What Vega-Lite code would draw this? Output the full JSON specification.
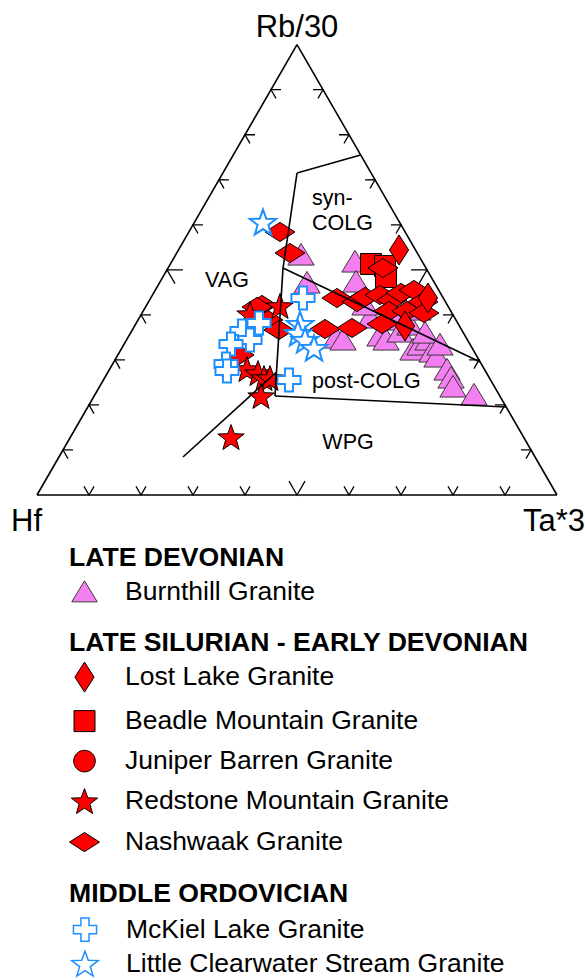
{
  "$schema": "https://vega.github.io/schema/vega-lite/v6.json",
  "width": 585,
  "height": 980,
  "autosize": {"type": "none"},
  "padding": 0,
  "background": "white",
  "config": {"view": {"stroke": null}, "font": "Liberation Sans"},
  "datasets": {
    "burnthill": [
      {"granite": "Burnthill Granite", "x": 50.77, "y": 46.15},
      {"granite": "Burnthill Granite", "x": 51.92, "y": 40.77},
      {"granite": "Burnthill Granite", "x": 61.15, "y": 44.81},
      {"granite": "Burnthill Granite", "x": 61.35, "y": 40.96},
      {"granite": "Burnthill Granite", "x": 57.5, "y": 30.19},
      {"granite": "Burnthill Granite", "x": 58.85, "y": 29.81},
      {"granite": "Burnthill Granite", "x": 65.96, "y": 30.58},
      {"granite": "Burnthill Granite", "x": 67.12, "y": 29.81},
      {"granite": "Burnthill Granite", "x": 64.04, "y": 34.04},
      {"granite": "Burnthill Granite", "x": 68.85, "y": 33.65},
      {"granite": "Burnthill Granite", "x": 69.81, "y": 31.35},
      {"granite": "Burnthill Granite", "x": 71.73, "y": 32.69},
      {"granite": "Burnthill Granite", "x": 72.31, "y": 27.88},
      {"granite": "Burnthill Granite", "x": 73.65, "y": 28.85},
      {"granite": "Burnthill Granite", "x": 75.19, "y": 29.81},
      {"granite": "Burnthill Granite", "x": 75.96, "y": 27.5},
      {"granite": "Burnthill Granite", "x": 76.92, "y": 26.54},
      {"granite": "Burnthill Granite", "x": 78.85, "y": 24.04},
      {"granite": "Burnthill Granite", "x": 79.62, "y": 22.5},
      {"granite": "Burnthill Granite", "x": 80.0, "y": 20.77},
      {"granite": "Burnthill Granite", "x": 84.04, "y": 19.23},
      {"granite": "Burnthill Granite", "x": 73.27, "y": 35.58},
      {"granite": "Burnthill Granite", "x": 63.08, "y": 36.54},
      {"granite": "Burnthill Granite", "x": 74.62, "y": 31.15},
      {"granite": "Burnthill Granite", "x": 77.5, "y": 28.85}
    ],
    "silurian": [
      {"granite": "Beadle Mountain Granite", "x": 64.23, "y": 44.42},
      {"granite": "Beadle Mountain Granite", "x": 66.92, "y": 44.04},
      {"granite": "Beadle Mountain Granite", "x": 67.12, "y": 41.92},
      {"granite": "Nashwaak Granite", "x": 46.73, "y": 50.58},
      {"granite": "Nashwaak Granite", "x": 48.65, "y": 46.54},
      {"granite": "Nashwaak Granite", "x": 43.27, "y": 36.54},
      {"granite": "Nashwaak Granite", "x": 42.31, "y": 36.15},
      {"granite": "Nashwaak Granite", "x": 44.42, "y": 33.65},
      {"granite": "Nashwaak Granite", "x": 46.54, "y": 31.73},
      {"granite": "Nashwaak Granite", "x": 57.69, "y": 37.88},
      {"granite": "Nashwaak Granite", "x": 61.54, "y": 37.12},
      {"granite": "Nashwaak Granite", "x": 63.08, "y": 38.08},
      {"granite": "Nashwaak Granite", "x": 65.96, "y": 38.46},
      {"granite": "Nashwaak Granite", "x": 68.27, "y": 37.5},
      {"granite": "Nashwaak Granite", "x": 70.0, "y": 38.85},
      {"granite": "Nashwaak Granite", "x": 72.5, "y": 39.42},
      {"granite": "Nashwaak Granite", "x": 74.23, "y": 37.12},
      {"granite": "Nashwaak Granite", "x": 67.69, "y": 35.38},
      {"granite": "Nashwaak Granite", "x": 71.15, "y": 35.38},
      {"granite": "Nashwaak Granite", "x": 74.42, "y": 35.0},
      {"granite": "Nashwaak Granite", "x": 55.38, "y": 31.92},
      {"granite": "Nashwaak Granite", "x": 60.58, "y": 32.12},
      {"granite": "Nashwaak Granite", "x": 66.35, "y": 32.88},
      {"granite": "Nashwaak Granite", "x": 66.54, "y": 43.65},
      {"granite": "Nashwaak Granite", "x": 38.85, "y": 26.92},
      {"granite": "Lost Lake Granite", "x": 69.62, "y": 47.12},
      {"granite": "Lost Lake Granite", "x": 70.77, "y": 32.5},
      {"granite": "Lost Lake Granite", "x": 75.19, "y": 37.88},
      {"granite": "Redstone Mountain Granite", "x": 46.73, "y": 36.35},
      {"granite": "Redstone Mountain Granite", "x": 40.96, "y": 34.81},
      {"granite": "Redstone Mountain Granite", "x": 40.38, "y": 24.23},
      {"granite": "Redstone Mountain Granite", "x": 42.5, "y": 23.46},
      {"granite": "Redstone Mountain Granite", "x": 43.65, "y": 22.5},
      {"granite": "Redstone Mountain Granite", "x": 44.81, "y": 22.5},
      {"granite": "Redstone Mountain Granite", "x": 43.08, "y": 19.04},
      {"granite": "Redstone Mountain Granite", "x": 37.31, "y": 11.15}
    ],
    "ordovician": [
      {"granite": "McKiel Lake Granite", "x": 51.15, "y": 37.88},
      {"granite": "McKiel Lake Granite", "x": 42.69, "y": 33.08},
      {"granite": "McKiel Lake Granite", "x": 39.42, "y": 31.54},
      {"granite": "McKiel Lake Granite", "x": 40.96, "y": 29.81},
      {"granite": "McKiel Lake Granite", "x": 37.31, "y": 29.04},
      {"granite": "McKiel Lake Granite", "x": 36.35, "y": 25.19},
      {"granite": "McKiel Lake Granite", "x": 36.54, "y": 23.85},
      {"granite": "McKiel Lake Granite", "x": 48.46, "y": 22.12},
      {"granite": "Little Clearwater Stream Granite", "x": 43.46, "y": 52.5},
      {"granite": "Little Clearwater Stream Granite", "x": 50.58, "y": 32.88},
      {"granite": "Little Clearwater Stream Granite", "x": 50.19, "y": 31.15},
      {"granite": "Little Clearwater Stream Granite", "x": 51.54, "y": 29.81},
      {"granite": "Little Clearwater Stream Granite", "x": 53.27, "y": 28.27}
    ],
    "segs": [
      {"x": 0, "y": 0, "x2": 100, "y2": 0},
      {"x": 0, "y": 0, "x2": 50, "y2": 86.6},
      {"x": 100, "y": 0, "x2": 50, "y2": 86.6},
      {"x": 62.23, "y": 65.38, "x2": 50.0, "y2": 61.92},
      {"x": 50.0, "y": 61.92, "x2": 47.31, "y2": 43.65},
      {"x": 47.31, "y": 43.65, "x2": 45.77, "y2": 19.04},
      {"x": 47.31, "y": 43.65, "x2": 85.23, "y2": 25.58},
      {"x": 45.77, "y": 19.04, "x2": 90.23, "y2": 16.92},
      {"x": 46.06, "y": 23.65, "x2": 28.08, "y2": 7.31}
    ],
    "ticks": [
      {"side": "bottom", "kind": "minor", "x": 10, "y": 0},
      {"side": "bottom", "kind": "minor", "x": 20, "y": 0},
      {"side": "bottom", "kind": "minor", "x": 30, "y": 0},
      {"side": "bottom", "kind": "minor", "x": 40, "y": 0},
      {"side": "bottom", "kind": "major", "x": 50, "y": 0},
      {"side": "bottom", "kind": "minor", "x": 60, "y": 0},
      {"side": "bottom", "kind": "minor", "x": 70, "y": 0},
      {"side": "bottom", "kind": "minor", "x": 80, "y": 0},
      {"side": "bottom", "kind": "minor", "x": 90, "y": 0},
      {"side": "left", "kind": "minor", "x": 5, "y": 8.66},
      {"side": "left", "kind": "minor", "x": 10, "y": 17.32},
      {"side": "left", "kind": "minor", "x": 15, "y": 25.98},
      {"side": "left", "kind": "minor", "x": 20, "y": 34.64},
      {"side": "left", "kind": "major", "x": 25, "y": 43.3},
      {"side": "left", "kind": "minor", "x": 30, "y": 51.96},
      {"side": "left", "kind": "minor", "x": 35, "y": 60.62},
      {"side": "left", "kind": "minor", "x": 40, "y": 69.28},
      {"side": "left", "kind": "minor", "x": 45, "y": 77.94},
      {"side": "right", "kind": "minor", "x": 95, "y": 8.66},
      {"side": "right", "kind": "minor", "x": 90, "y": 17.32},
      {"side": "right", "kind": "minor", "x": 85, "y": 25.98},
      {"side": "right", "kind": "minor", "x": 80, "y": 34.64},
      {"side": "right", "kind": "major", "x": 75, "y": 43.3},
      {"side": "right", "kind": "minor", "x": 70, "y": 51.96},
      {"side": "right", "kind": "minor", "x": 65, "y": 60.62},
      {"side": "right", "kind": "minor", "x": 60, "y": 69.28},
      {"side": "right", "kind": "minor", "x": 55, "y": 77.94}
    ],
    "vlabels": [
      {"label": "Rb/30", "x": 50, "y": 88.08},
      {"label": "Hf", "x": -2.0, "y": -6.92},
      {"label": "Ta*3", "x": 99.42, "y": -6.92}
    ],
    "rlabels": [
      {"label": "syn-", "x": 56.79, "y": 55.77},
      {"label": "COLG", "x": 58.75, "y": 50.96},
      {"label": "VAG", "x": 36.54, "y": 40.0},
      {"label": "post-COLG", "x": 63.35, "y": 20.58},
      {"label": "WPG", "x": 59.81, "y": 8.85}
    ]
  },
  "encoding": {
    "x": {"field": "x", "type": "quantitative", "axis": null, "scale": {"domain": [-7.1154, 105.3846], "nice": false, "zero": false}},
    "y": {"field": "y", "type": "quantitative", "axis": null, "scale": {"domain": [-93.269, 95.192], "nice": false, "zero": false}}
  },
  "layer": [
    {
      "data": {"name": "burnthill"},
      "mark": {"type": "point", "filled": true, "fill": "#f47ff0", "strokeWidth": 1, "opacity": 1, "size": 960},
      "encoding": {
        "shape": {
          "field": "granite", "type": "nominal",
          "scale": {"domain": ["Burnthill Granite"], "range": ["M0,-0.75L0.85,0.65L-0.85,0.65Z"]},
          "legend": {"title": "LATE DEVONIAN", "orient": "none", "legendX": 69, "legendY": 545, "padding": 0, "symbolSize": 900, "symbolStrokeWidth": 1, "labelFont": "Liberation Sans", "labelFontSize": 26.5, "labelColor": "black", "labelLimit": 1000, "labelOffset": 25, "titleFont": "Liberation Sans", "titleFontSize": 26.6, "titleFontWeight": "bold", "titleColor": "black", "titlePadding": 5, "titleLimit": 1000, "rowPadding": 0}
        },
        "stroke": {
          "field": "granite", "type": "nominal",
          "scale": {"domain": ["Burnthill Granite"], "range": ["#3a3a3a"]},
          "legend": {"title": "LATE DEVONIAN", "orient": "none", "legendX": 69, "legendY": 545, "padding": 0, "symbolSize": 900, "symbolStrokeWidth": 1, "labelFont": "Liberation Sans", "labelFontSize": 26.5, "labelColor": "black", "labelLimit": 1000, "labelOffset": 25, "titleFont": "Liberation Sans", "titleFontSize": 26.6, "titleFontWeight": "bold", "titleColor": "black", "titlePadding": 5, "titleLimit": 1000, "rowPadding": 0}
        }
      }
    },
    {
      "data": {"name": "silurian"},
      "mark": {"type": "point", "filled": true, "fill": "#ff0000", "strokeWidth": 1, "opacity": 1, "size": 900},
      "encoding": {
        "shape": {
          "field": "granite", "type": "nominal",
          "scale": {
            "domain": ["Lost Lake Granite", "Beadle Mountain Granite", "Juniper Barren Granite", "Redstone Mountain Granite", "Nashwaak Granite"],
            "range": [
              "M0,-1L0.64,0L0,1L-0.64,0Z",
              "M-0.7,-0.7L0.7,-0.7L0.7,0.7L-0.7,0.7Z",
              "M-0.72,0A0.72,0.72,0,1,0,0.72,0A0.72,0.72,0,1,0,-0.72,0Z",
              "M0,-0.83L0.22,-0.22L0.88,-0.2L0.36,0.2L0.54,0.83L0,0.47L-0.54,0.83L-0.36,0.2L-0.88,-0.2L-0.22,-0.22Z",
              "M-1,0L0,-0.64L1,0L0,0.64Z"
            ]
          },
          "legend": {"title": "LATE SILURIAN - EARLY DEVONIAN", "orient": "none", "legendX": 69, "legendY": 630, "padding": 0, "symbolSize": 900, "symbolStrokeWidth": 1, "labelFont": "Liberation Sans", "labelFontSize": 26.5, "labelColor": "black", "labelLimit": 1000, "labelOffset": 25, "titleFont": "Liberation Sans", "titleFontSize": 26.6, "titleFontWeight": "bold", "titleColor": "black", "titlePadding": 5, "titleLimit": 1000, "rowPadding": 11}
        },
        "stroke": {
          "field": "granite", "type": "nominal",
          "scale": {
            "domain": ["Lost Lake Granite", "Beadle Mountain Granite", "Juniper Barren Granite", "Redstone Mountain Granite", "Nashwaak Granite"],
            "range": ["black", "black", "black", "black", "black"]
          },
          "legend": {"title": "LATE SILURIAN - EARLY DEVONIAN", "orient": "none", "legendX": 69, "legendY": 630, "padding": 0, "symbolSize": 900, "symbolStrokeWidth": 1, "labelFont": "Liberation Sans", "labelFontSize": 26.5, "labelColor": "black", "labelLimit": 1000, "labelOffset": 25, "titleFont": "Liberation Sans", "titleFontSize": 26.6, "titleFontWeight": "bold", "titleColor": "black", "titlePadding": 5, "titleLimit": 1000, "rowPadding": 11}
        }
      }
    },
    {
      "data": {"name": "ordovician"},
      "mark": {"type": "point", "filled": true, "fill": "white", "strokeWidth": 2, "opacity": 1, "size": 900},
      "encoding": {
        "shape": {
          "field": "granite", "type": "nominal",
          "scale": {
            "domain": ["McKiel Lake Granite", "Little Clearwater Stream Granite"],
            "range": [
              "M-0.27,-0.77L0.27,-0.77L0.27,-0.27L0.77,-0.27L0.77,0.27L0.27,0.27L0.27,0.77L-0.27,0.77L-0.27,0.27L-0.77,0.27L-0.77,-0.27L-0.27,-0.27Z",
              "M0,-0.83L0.22,-0.22L0.88,-0.2L0.36,0.2L0.54,0.83L0,0.47L-0.54,0.83L-0.36,0.2L-0.88,-0.2L-0.22,-0.22Z"
            ]
          },
          "legend": {"title": "MIDDLE ORDOVICIAN", "orient": "none", "legendX": 69, "legendY": 881, "padding": 0, "symbolSize": 900, "symbolStrokeWidth": 1.5, "labelFont": "Liberation Sans", "labelFontSize": 26.5, "labelColor": "black", "labelLimit": 1000, "labelOffset": 25, "titleFont": "Liberation Sans", "titleFontSize": 26.6, "titleFontWeight": "bold", "titleColor": "black", "titlePadding": 6, "titleLimit": 1000, "rowPadding": 3}
        },
        "stroke": {
          "field": "granite", "type": "nominal",
          "scale": {
            "domain": ["McKiel Lake Granite", "Little Clearwater Stream Granite"],
            "range": ["#1e8fff", "#1e8fff"]
          },
          "legend": {"title": "MIDDLE ORDOVICIAN", "orient": "none", "legendX": 69, "legendY": 881, "padding": 0, "symbolSize": 900, "symbolStrokeWidth": 1.5, "labelFont": "Liberation Sans", "labelFontSize": 26.5, "labelColor": "black", "labelLimit": 1000, "labelOffset": 25, "titleFont": "Liberation Sans", "titleFontSize": 26.6, "titleFontWeight": "bold", "titleColor": "black", "titlePadding": 6, "titleLimit": 1000, "rowPadding": 3}
        }
      }
    },
    {
      "data": {"name": "segs"},
      "mark": {"type": "rule", "color": "black", "strokeWidth": 1.6},
      "encoding": {
        "x2": {"field": "x2"},
        "y2": {"field": "y2"}
      }
    },
    {
      "data": {"name": "ticks"},
      "transform": [{"filter": "datum.side === 'bottom'"}],
      "mark": {"type": "point", "filled": false, "color": "black", "strokeWidth": 1.3, "opacity": 1, "angle": 0, "shape": "M-0.577,-1L0,0L0.577,-1"},
      "encoding": {
        "size": {"field": "kind", "type": "ordinal", "scale": {"domain": ["minor", "major"], "range": [300, 768]}, "legend": null}
      }
    },
    {
      "data": {"name": "ticks"},
      "transform": [{"filter": "datum.side === 'left'"}],
      "mark": {"type": "point", "filled": false, "color": "black", "strokeWidth": 1.3, "opacity": 1, "angle": 120, "shape": "M-0.577,-1L0,0L0.577,-1"},
      "encoding": {
        "size": {"field": "kind", "type": "ordinal", "scale": {"domain": ["minor", "major"], "range": [300, 768]}, "legend": null}
      }
    },
    {
      "data": {"name": "ticks"},
      "transform": [{"filter": "datum.side === 'right'"}],
      "mark": {"type": "point", "filled": false, "color": "black", "strokeWidth": 1.3, "opacity": 1, "angle": 240, "shape": "M-0.577,-1L0,0L0.577,-1"},
      "encoding": {
        "size": {"field": "kind", "type": "ordinal", "scale": {"domain": ["minor", "major"], "range": [300, 768]}, "legend": null}
      }
    },
    {
      "data": {"name": "vlabels"},
      "mark": {"type": "text", "font": "Liberation Sans", "fontSize": 31, "color": "black", "align": "center", "baseline": "alphabetic"},
      "encoding": {"text": {"field": "label"}}
    },
    {
      "data": {"name": "rlabels"},
      "mark": {"type": "text", "font": "Liberation Sans", "fontSize": 21.5, "color": "black", "align": "center", "baseline": "alphabetic"},
      "encoding": {"text": {"field": "label"}}
    }
  ],
  "resolve": {"scale": {"shape": "independent", "stroke": "independent"}, "legend": {"shape": "independent", "stroke": "independent"}}
}
